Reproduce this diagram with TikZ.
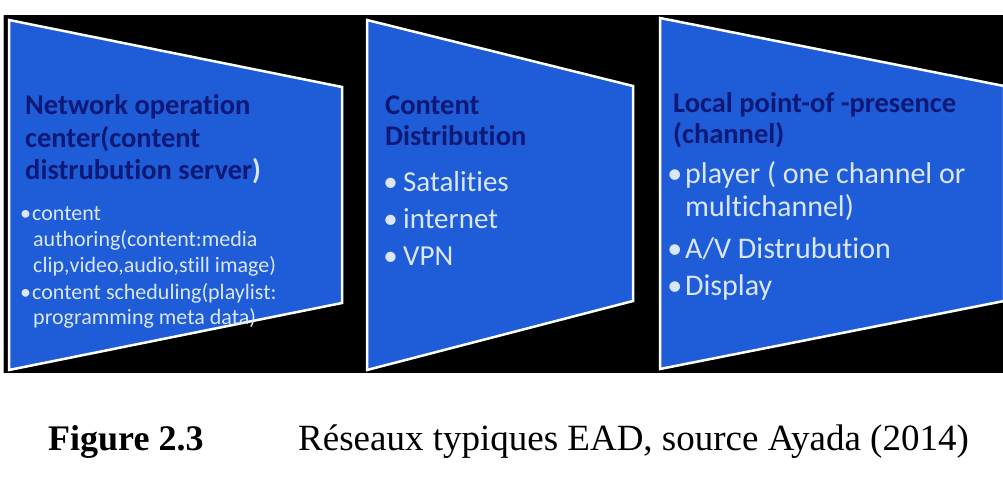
\documentclass[tikz,border=0pt]{standalone}
\usepackage{fontspec}
\setmainfont{Carlito}[Ligatures=NoCommon]
\newfontfamily\capfont{Liberation Serif}
\definecolor{boxblue}{RGB}{30,92,216}
\definecolor{navy}{RGB}{14,24,118}
\definecolor{pale}{RGB}{218,230,250}
\tikzset{
  trap/.style={fill=boxblue, draw=white, line width=2.5pt, line join=miter},
  hd/.style={font=\bfseries\fontsize{28.5}{33}\selectfont, text=navy, anchor=base west, inner sep=0pt},
  smalltxt/.style={font=\fontsize{22}{26}\selectfont, text=pale, anchor=base west, inner sep=0pt},
  midtxt/.style={font=\fontsize{29}{35}\selectfont, text=pale, anchor=base west, inner sep=0pt},
  bigtxt/.style={font=\fontsize{30}{36}\selectfont, text=pale, anchor=base west, inner sep=0pt},
  captxt/.style={font=\capfont\fontsize{37}{44}\selectfont, text=black, anchor=base west, inner sep=0pt}
}
\begin{document}
\begin{tikzpicture}[x=1pt,y=-1pt]
\useasboundingbox (0,0) rectangle (1003,492);
\fill[white] (0,0) rectangle (1003,492);
\fill[black] (3,15) rectangle (1003,373);
\draw[gray!60, line width=1pt] (3,15) -- (3,373);
% trapezoids
\draw[trap] (9,20) -- (342,87) -- (342,303) -- (9,370) -- cycle;
\draw[trap] (367,20) -- (633,86) -- (633,301) -- (367,370) -- cycle;
\draw[trap] (660,18) -- (1004,86) -- (1004,301) -- (660,369) -- cycle;
% box 1
\node[hd] (a1) at (25,115) {Network operation};
\node[hd] (a2) at (25,147) {center(content};
\node[hd] (a3) at (25,179) {distrubution server\textcolor{pale}{)}};
\node[smalltxt] (a4) at (32,220) {\llap{•\hspace{1pt}}content};
\node[smalltxt] (a5) at (33,246) {authoring(content:media};
\node[smalltxt] (a6) at (33,272) {clip,video,audio,still image)};
\node[smalltxt] (a7) at (32,299) {\llap{•\hspace{1pt}}content scheduling(playlist:};
\node[smalltxt] (a8) at (33,324) {programming meta data)};
% box 2
\node[hd] (b1) at (385,115) {Content};
\node[hd] (b2) at (385,146) {Distribution};
\node[midtxt] (b3) at (403,191) {\llap{•\hspace{5.5pt}}Satalities};
\node[midtxt] (b4) at (403,228) {\llap{•\hspace{5.5pt}}internet};
\node[midtxt] (b5) at (403,265) {\llap{•\hspace{5.5pt}}VPN};
% box 3
\node[hd] (c1) at (673,113) {Local point-of -presence};
\node[hd] (c2) at (673,143) {(channel)};
\node[bigtxt] (c3) at (685,183) {\llap{•\hspace{3pt}}player ( one channel or};
\node[bigtxt] (c4) at (685,216) {multichannel)};
\node[bigtxt] (c5) at (685,258) {\llap{•\hspace{3pt}}A/V Distrubution};
\node[bigtxt] (c6) at (685,295) {\llap{•\hspace{3pt}}Display};
% caption
\node[captxt, font=\capfont\bfseries\fontsize{36}{44}\selectfont] (f1) at (48,450) {Figure 2.3};
\node[captxt] (f2) at (298,450) {Réseaux typiques EAD, source Ayada (2014)};
\end{tikzpicture}
\end{document}
